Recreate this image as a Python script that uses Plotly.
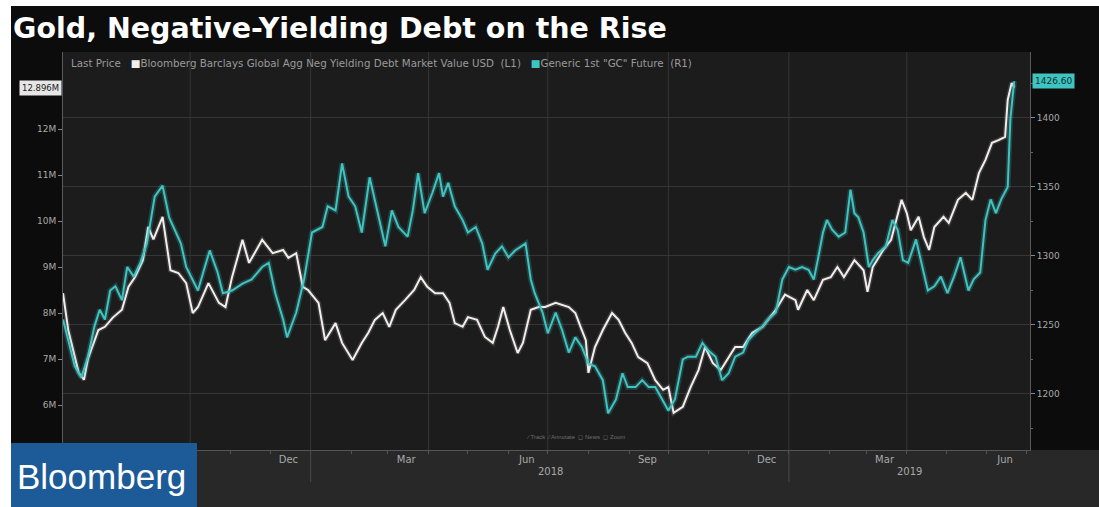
import plotly.graph_objects as go

# ---- data -------------------------------------------------------------
# Bloomberg Barclays Global Agg Negative Yielding Debt Market Value (USD, shown as "M")
debt_dates = [
    "2017-06-26", "2017-06-30", "2017-07-08", "2017-07-12", "2017-07-15", "2017-07-23", "2017-07-28",
    "2017-08-03", "2017-08-10", "2017-08-15", "2017-08-20", "2017-08-26", "2017-08-30", "2017-09-03",
    "2017-09-10", "2017-09-14", "2017-09-16", "2017-09-22", "2017-09-28", "2017-10-03", "2017-10-07",
    "2017-10-15", "2017-10-23", "2017-10-28", "2017-11-02", "2017-11-10", "2017-11-15", "2017-11-25",
    "2017-12-03", "2017-12-11", "2017-12-15", "2017-12-21", "2017-12-26", "2017-12-30", "2018-01-07",
    "2018-01-12", "2018-01-20", "2018-01-25", "2018-01-30", "2018-02-02", "2018-02-09", "2018-02-14",
    "2018-02-19", "2018-02-25", "2018-03-02", "2018-03-07", "2018-03-14", "2018-03-21", "2018-03-26",
    "2018-03-31", "2018-04-06", "2018-04-12", "2018-04-17", "2018-04-21", "2018-04-27", "2018-05-01",
    "2018-05-08", "2018-05-14", "2018-05-20", "2018-05-24", "2018-05-28", "2018-06-02", "2018-06-08",
    "2018-06-12", "2018-06-18", "2018-06-24", "2018-06-29", "2018-07-07", "2018-07-17", "2018-07-22",
    "2018-07-26", "2018-07-30", "2018-08-01", "2018-08-06", "2018-08-12", "2018-08-19", "2018-08-24",
    "2018-08-29", "2018-09-03", "2018-09-08", "2018-09-15", "2018-09-21", "2018-09-27", "2018-10-01",
    "2018-10-05", "2018-10-12", "2018-10-18", "2018-10-24", "2018-10-29", "2018-11-04", "2018-11-10",
    "2018-11-16", "2018-11-21", "2018-11-27", "2018-12-04", "2018-12-12", "2018-12-16", "2018-12-22",
    "2018-12-29", "2019-01-06", "2019-01-08", "2019-01-15", "2019-01-20", "2019-01-27", "2019-02-02",
    "2019-02-07", "2019-02-12", "2019-02-20", "2019-02-27", "2019-03-02", "2019-03-06", "2019-03-14",
    "2019-03-20", "2019-03-24", "2019-03-28", "2019-04-01", "2019-04-04", "2019-04-10", "2019-04-14",
    "2019-04-18", "2019-04-22", "2019-04-29", "2019-05-03", "2019-05-10", "2019-05-16", "2019-05-21",
    "2019-05-26", "2019-05-31", "2019-06-05", "2019-06-10", "2019-06-15", "2019-06-17", "2019-06-20",
    "2019-06-22",
]
debt_values = [
    8.43, 7.63, 6.70, 6.55, 7.00, 7.63, 7.70, 7.90, 8.07, 8.57,
    8.78, 9.15, 9.87, 9.60, 10.09, 9.37, 8.93, 8.87, 8.65, 8.00,
    8.13, 8.65, 8.22, 8.13, 8.78, 9.59, 9.09, 9.59, 9.30, 9.37,
    9.20, 9.30, 8.57, 8.50, 8.22, 7.41, 7.78, 7.35, 7.13, 6.98,
    7.35, 7.57, 7.85, 8.00, 7.70, 8.07, 8.28, 8.50, 8.78, 8.57,
    8.43, 8.43, 8.22, 7.78, 7.70, 7.91, 7.85, 7.48, 7.35, 7.70,
    8.13, 7.63, 7.13, 7.35, 8.07, 8.13, 8.13, 8.22, 8.13, 8.00,
    7.70, 7.41, 6.70, 7.26, 7.63, 8.00, 7.85, 7.57, 7.35, 7.04,
    6.91, 6.54, 6.33, 6.39, 5.83, 5.96, 6.39, 6.76, 7.26, 6.91,
    6.76, 7.04, 7.26, 7.26, 7.57, 7.70, 7.85, 8.07, 8.40, 8.28,
    8.07, 8.50, 8.28, 8.72, 8.78, 9.00, 8.78, 9.15, 8.93, 8.46,
    9.00, 9.37, 9.59, 10.02, 10.46, 10.17, 9.80, 10.09, 9.65, 9.37,
    9.87, 10.09, 9.96, 10.46, 10.61, 10.46, 11.04, 11.33, 11.70, 11.76,
    11.83, 12.63, 13.00, 12.896,
]

# Generic 1st "GC" gold future (USD/oz)
gold_dates = [
    "2017-06-26", "2017-06-30", "2017-07-05", "2017-07-10", "2017-07-15", "2017-07-20", "2017-07-24",
    "2017-07-28", "2017-08-01", "2017-08-05", "2017-08-10", "2017-08-14", "2017-08-19", "2017-08-24",
    "2017-08-29", "2017-09-04", "2017-09-10", "2017-09-15", "2017-09-20", "2017-09-24", "2017-09-28",
    "2017-10-03", "2017-10-07", "2017-10-11", "2017-10-16", "2017-10-22", "2017-10-26", "2017-11-02",
    "2017-11-10", "2017-11-17", "2017-11-25", "2017-11-30", "2017-12-05", "2017-12-11", "2017-12-14",
    "2017-12-21", "2017-12-27", "2018-01-02", "2018-01-10", "2018-01-14", "2018-01-20", "2018-01-25",
    "2018-01-30", "2018-02-04", "2018-02-09", "2018-02-15", "2018-02-21", "2018-02-27", "2018-03-04",
    "2018-03-09", "2018-03-16", "2018-03-20", "2018-03-24", "2018-03-29", "2018-04-04", "2018-04-09",
    "2018-04-12", "2018-04-16", "2018-04-21", "2018-04-27", "2018-05-01", "2018-05-07", "2018-05-12",
    "2018-05-16", "2018-05-22", "2018-05-27", "2018-06-01", "2018-06-06", "2018-06-14", "2018-06-18",
    "2018-06-21", "2018-06-27", "2018-07-01", "2018-07-07", "2018-07-12", "2018-07-17", "2018-07-22",
    "2018-07-27", "2018-08-01", "2018-08-06", "2018-08-12", "2018-08-16", "2018-08-22", "2018-08-27",
    "2018-08-31", "2018-09-06", "2018-09-11", "2018-09-16", "2018-09-21", "2018-09-26", "2018-10-01",
    "2018-10-06", "2018-10-12", "2018-10-16", "2018-10-22", "2018-10-27", "2018-10-31", "2018-11-06",
    "2018-11-11", "2018-11-16", "2018-11-21", "2018-11-27", "2018-12-01", "2018-12-06", "2018-12-12",
    "2018-12-16", "2018-12-22", "2018-12-27", "2019-01-01", "2019-01-06", "2019-01-11", "2019-01-16",
    "2019-01-20", "2019-01-23", "2019-01-27", "2019-01-30", "2019-02-03", "2019-02-08", "2019-02-13",
    "2019-02-17", "2019-02-20", "2019-02-23", "2019-02-27", "2019-03-03", "2019-03-06", "2019-03-10",
    "2019-03-16", "2019-03-21", "2019-03-25", "2019-03-29", "2019-04-02", "2019-04-08", "2019-04-13",
    "2019-04-17", "2019-04-22", "2019-04-27", "2019-05-02", "2019-05-07", "2019-05-12", "2019-05-18",
    "2019-05-22", "2019-05-27", "2019-05-31", "2019-06-04", "2019-06-08", "2019-06-12", "2019-06-17",
    "2019-06-19", "2019-06-21", "2019-06-22",
]
gold_values = [
    1254, 1239, 1220, 1212, 1227, 1249, 1261, 1254, 1275, 1278,
    1268, 1292, 1285, 1295, 1309, 1343, 1351, 1328, 1317, 1309,
    1292, 1283, 1275, 1288, 1304, 1288, 1273, 1275, 1280, 1283,
    1292, 1295, 1273, 1254, 1241, 1259, 1283, 1317, 1321, 1336,
    1333, 1367, 1343, 1336, 1317, 1357, 1331, 1307, 1333, 1321,
    1314, 1333, 1360, 1331, 1346, 1360, 1343, 1353, 1336, 1326,
    1317, 1321, 1309, 1290, 1302, 1307, 1299, 1304, 1309, 1283,
    1273, 1259, 1244, 1259, 1246, 1230, 1241, 1234, 1222, 1220,
    1210, 1186, 1196, 1215, 1205, 1205, 1210, 1205, 1205, 1196,
    1188, 1196, 1225, 1227, 1227, 1237, 1232, 1227, 1210, 1215,
    1227, 1230, 1239, 1244, 1249, 1254, 1259, 1283, 1292, 1290,
    1292, 1290, 1283, 1297, 1317, 1326, 1319, 1314, 1317, 1348,
    1331, 1328, 1317, 1292, 1297, 1302, 1307, 1326, 1319, 1297,
    1295, 1312, 1292, 1275, 1278, 1285, 1273, 1285, 1299, 1275,
    1283, 1288, 1326, 1341, 1331, 1341, 1350, 1399, 1418, 1426.60,
]

# axis labelling
month_tick_dates = ["2017-12-15", "2018-03-15", "2018-06-15", "2018-09-15",
                    "2018-12-15", "2019-03-15", "2019-06-15"]
month_tick_text = ["Dec", "Mar", "Jun", "Sep", "Dec", "Mar", "Jun"]
quarter_lines = ["2017-10-01", "2018-01-01", "2018-04-01", "2018-07-01",
                 "2018-10-01", "2019-01-01", "2019-04-01"]
year_starts = ["2018-01-01", "2019-01-01"]
year_labels = ["2018", "2019"]
year_label_dates = ["2018-07-03", "2019-04-03"]
left_ticks = [6, 7, 8, 9, 10, 11, 12]
left_tick_text = ["%dM" % v for v in left_ticks]

# ---- layout helpers (pixel -> paper) ----------------------------------
W, H = 1099, 507
L, R, T, B = 63, 1030, 52, 450


def px(x):
    return (x - L) / (R - L)


def py(y):
    return (B - y) / (B - T)


TEAL = "#3fc4c2"
WHITE = "#f3eded"
GRID = "#363636"
TICK_GREY = "#a8a8a8"

fig = go.Figure()

# soft glow under each line, then the lines themselves
fig.add_trace(go.Scatter(x=gold_dates, y=gold_values, yaxis="y2", mode="lines",
                         line=dict(color="rgba(63,196,194,0.22)", width=5.5),
                         hoverinfo="skip"))
fig.add_trace(go.Scatter(x=debt_dates, y=debt_values, yaxis="y", mode="lines",
                         line=dict(color="rgba(255,255,255,0.13)", width=5),
                         hoverinfo="skip"))
fig.add_trace(go.Scatter(x=gold_dates, y=gold_values, yaxis="y2", mode="lines",
                         name='Generic 1st "GC" Future',
                         line=dict(color=TEAL, width=2)))
fig.add_trace(go.Scatter(x=debt_dates, y=debt_values, yaxis="y", mode="lines",
                         name="Bloomberg Barclays Global Agg Neg Yielding Debt Market Value USD",
                         line=dict(color=WHITE, width=2)))

shapes = []
# white photo border on the top and left
shapes.append(dict(type="rect", xref="paper", yref="paper", x0=px(0), x1=px(11),
                   y0=py(H), y1=py(0), fillcolor="white", line_width=0, layer="above"))
shapes.append(dict(type="rect", xref="paper", yref="paper", x0=px(0), x1=px(W),
                   y0=py(6), y1=py(0), fillcolor="white", line_width=0, layer="above"))
# grey strip under the axis
shapes.append(dict(type="rect", xref="paper", yref="paper", x0=px(11), x1=px(W),
                   y0=py(H), y1=py(B), fillcolor="#282828", line_width=0, layer="below"))
# quarter gridlines
for d in quarter_lines:
    shapes.append(dict(type="line", xref="x", yref="paper", x0=d, x1=d, y0=0, y1=1,
                       line=dict(color=GRID, width=1), layer="below"))
# year separators under the month labels
for d in year_starts:
    shapes.append(dict(type="line", xref="x", yref="paper", x0=d, x1=d,
                       y0=py(482), y1=py(B), line=dict(color="#4a4a4a", width=1)))
# Bloomberg badge
shapes.append(dict(type="rect", xref="paper", yref="paper", x0=px(11), x1=px(197),
                   y0=py(H), y1=py(443), fillcolor="#1d5b98", line_width=0, layer="above"))

annotations = []
annotations.append(dict(text="<b>Gold, Negative-Yielding Debt on the Rise</b>", xref="paper",
                        yref="paper", x=px(11), y=py(29), xanchor="left", yanchor="middle",
                        showarrow=False,
                        font=dict(family="DejaVu Sans", size=28.5, color="white")))
annotations.append(dict(
    text=("Last Price&nbsp;&nbsp;&nbsp;<span style='color:%s'>■</span>Bloomberg Barclays Global Agg Neg "
          "Yielding Debt Market Value USD&nbsp;&nbsp;(L1)&nbsp;&nbsp;&nbsp;<span style='color:%s'>■</span>"
          "Generic 1st \"GC\" Future&nbsp;&nbsp;(R1)") % (WHITE, TEAL),
    xref="paper", yref="paper", x=px(69), y=py(63), xanchor="left", yanchor="middle",
    showarrow=False, font=dict(family="DejaVu Sans", size=10.3, color="#9a9a9a")))
annotations.append(dict(text="⁄ Track&nbsp;&nbsp;⁄ Annotate&nbsp;&nbsp;◻ News&nbsp;&nbsp;◻ Zoom",
                        xref="paper", yref="paper", x=px(575), y=py(437), xanchor="center",
                        yanchor="middle", showarrow=False,
                        font=dict(family="Liberation Sans", size=6, color="#6e6e6e")))
for lbl, d in zip(year_labels, year_label_dates):
    annotations.append(dict(text=lbl, xref="x", yref="paper", x=d, y=py(472),
                            xanchor="center", yanchor="middle", showarrow=False,
                            font=dict(family="DejaVu Sans", size=10, color=TICK_GREY)))
# last-value tags
annotations.append(dict(text="%.3fM" % debt_values[-1], xref="paper", yref="y", x=px(62),
                        y=debt_values[-1], xanchor="right", yanchor="middle", showarrow=False,
                        bgcolor="#e6e6e6", borderpad=2,
                        font=dict(family="DejaVu Sans", size=8.5, color="#222222")))
annotations.append(dict(text="%.2f" % gold_values[-1], xref="paper", yref="y2", x=px(1032),
                        y=gold_values[-1], xanchor="left", yanchor="middle", showarrow=False,
                        bgcolor=TEAL, borderpad=2,
                        font=dict(family="DejaVu Sans", size=9, color="#10302f")))
annotations.append(dict(text="Bloomberg", xref="paper", yref="paper", x=px(101), y=py(477),
                        xanchor="center", yanchor="middle", showarrow=False,
                        font=dict(family="Liberation Sans", size=35, color="white")))

fig.update_layout(
    width=W, height=H,
    margin=dict(l=L, r=W - R, t=T, b=H - B, pad=0),
    paper_bgcolor="#0c0c0c",
    plot_bgcolor="#1c1c1c",
    showlegend=False,
    shapes=shapes,
    annotations=annotations,
    xaxis=dict(
        type="date", range=["2017-06-26", "2019-07-04"],
        tickmode="array", tickvals=month_tick_dates, ticktext=month_tick_text,
        ticks="", showgrid=False, zeroline=False,
        showline=True, linecolor="#555555", linewidth=1,
        tickfont=dict(family="DejaVu Sans", size=10, color=TICK_GREY),
        minor=dict(dtick="M1", tick0="2017-07-01", ticks="outside", ticklen=3,
                   tickcolor="#555555", showgrid=False),
    ),
    yaxis=dict(
        range=[5.022, 13.674], tickmode="array", tickvals=left_ticks, ticktext=left_tick_text,
        showgrid=False, zeroline=False, ticks="outside", ticklen=4, tickcolor="#888888",
        showline=True, linecolor="#5a5a5a", linewidth=1,
        tickfont=dict(family="DejaVu Sans", size=9, color=TICK_GREY),
    ),
    yaxis2=dict(
        overlaying="y", side="right", range=[1159.4, 1447.8],
        tick0=1200, dtick=50, showgrid=True, gridcolor=GRID, zeroline=False,
        ticks="outside", ticklen=4, tickcolor="#888888",
        showline=True, linecolor="#5a5a5a", linewidth=1,
        tickfont=dict(family="DejaVu Sans", size=9, color=TICK_GREY),
        minor=dict(dtick=25, tick0=1175, ticks="outside", ticklen=2, tickcolor="#666666",
                   showgrid=False),
    ),
)

fig.write_html("out.html")
